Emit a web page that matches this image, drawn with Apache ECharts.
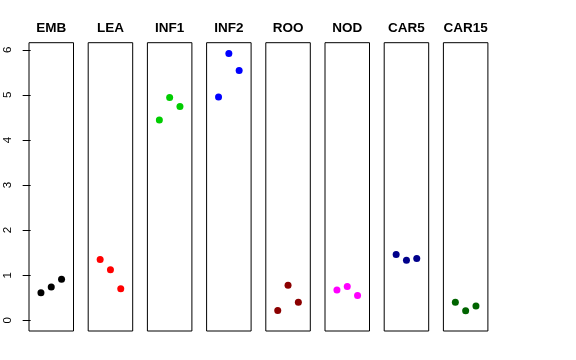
<!DOCTYPE html>
<html>
<head>
<meta charset="utf-8">
<script src="https://cdn.jsdelivr.net/npm/echarts@6/dist/echarts.min.js"></script>
<style>html,body{margin:0;padding:0;background:#fff}#c{width:576px;height:360px}</style>
</head>
<body>
<div id="c"></div>
<script>
const categories = ["EMB", "LEA", "INF1", "INF2", "ROO", "NOD", "CAR5", "CAR15"];
const EMB = [0.61, 0.74, 0.91];
const LEA = [1.35, 1.12, 0.70];
const INF1 = [4.44, 4.94, 4.74];
const INF2 = [4.95, 5.92, 5.54];
const ROO = [0.22, 0.78, 0.40];
const NOD = [0.67, 0.75, 0.55];
const CAR5 = [1.46, 1.33, 1.37];
const CAR15 = [0.40, 0.21, 0.32];
const seriesValues = [EMB, LEA, INF1, INF2, ROO, NOD, CAR5, CAR15];
const colors = ["#000000", "#FF0000", "#00CD00", "#0000FF", "#8B0000", "#FF00FF", "#00008B", "#006400"];
const yTickLabels = [0, 1, 2, 3, 4, 5, 6];

const chart = echarts.init(document.getElementById('c'), null, {renderer: 'canvas'});
const grids = [], xAxes = [], yAxes = [], series = [];
const font = 'Liberation Sans, Arial, Helvetica, sans-serif';
categories.forEach((cat, i) => {
  grids.push({
    left: 29 + 59.2 * i, top: 42.7, width: 44.5, height: 288.3,
    show: true, borderColor: '#000', borderWidth: 1, backgroundColor: 'transparent',
    containLabel: false
  });
  xAxes.push({
    gridIndex: i, type: 'value', min: -0.16, max: 4.16, position: 'top',
    name: cat, nameLocation: 'middle', nameGap: 7,
    nameTextStyle: {fontFamily: font, fontWeight: 'bold', fontSize: 13.5, color: '#000'},
    axisLine: {show: false}, axisTick: {show: false}, axisLabel: {show: false}, splitLine: {show: false}
  });
  yAxes.push({
    gridIndex: i, type: 'value', min: -0.237, max: 6.157,
    splitLine: {show: false},
    axisLine: {show: false},
    axisTick: {show: i === 0, length: 8, customValues: yTickLabels, lineStyle: {color: '#000'}},
    axisLabel: {show: i === 0, customValues: yTickLabels, rotate: 90, margin: 15,
      fontFamily: font, fontSize: 11.5, color: '#000'}
  });
  series.push({
    type: 'scatter', xAxisIndex: i, yAxisIndex: i,
    symbol: 'circle', symbolSize: 7,
    itemStyle: {color: colors[i], opacity: 1},
    data: seriesValues[i].map((v, j) => [j + 1, v]),
    silent: true, animation: false
  });
});
chart.setOption({
  animation: false,
  backgroundColor: '#fff',
  grid: grids, xAxis: xAxes, yAxis: yAxes, series: series
});
</script>
</body>
</html>
